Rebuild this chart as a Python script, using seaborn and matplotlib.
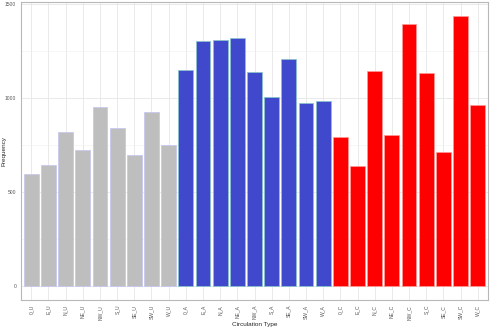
import matplotlib
matplotlib.use("Agg")
import matplotlib.pyplot as plt
from matplotlib.ticker import MultipleLocator
import seaborn as sns
import pandas as pd

# Circulation types (direction + class: U = unclassified, A = anticyclonic, C = cyclonic)
categories = [
    "0_U", "E_U", "N_U", "NE_U", "NW_U", "S_U", "SE_U", "SW_U", "W_U",
    "0_A", "E_A", "N_A", "NE_A", "NW_A", "S_A", "SE_A", "SW_A", "W_A",
    "0_C", "E_C", "N_C", "NE_C", "NW_C", "S_C", "SE_C", "SW_C", "W_C",
]
frequency = [
    596, 644, 820, 724, 953, 839, 698, 927, 750,
    1149, 1301, 1306, 1317, 1138, 1006, 1205, 974, 981,
    792, 640, 1144, 803, 1389, 1132, 712, 1436, 964,
]
circ_class = [c.split("_")[1] for c in categories]

fill_colors = {"U": "#BEBEBE", "A": "#4048CC", "C": "#FF0000"}
edge_colors = {"U": "#C4C4F2", "A": "#86C6C8", "C": "#FF9A9A"}

df = pd.DataFrame({"type": categories, "freq": frequency, "cls": circ_class})

sns.set_theme(style="whitegrid")
plt.rcParams["font.family"] = ["Liberation Sans", "DejaVu Sans"]

fig = plt.figure(figsize=(4.9, 3.27), dpi=100)
ax = fig.add_axes([21 / 490, 27 / 327, 467 / 490, 298 / 327])

sns.barplot(
    data=df, x="type", y="freq", hue="cls", order=categories,
    palette=fill_colors, dodge=False, width=0.86, legend=False, ax=ax,
    saturation=1, linewidth=0.5,
)
for patch, cls in zip(ax.patches, circ_class):
    patch.set_edgecolor(edge_colors[cls])
    patch.set_zorder(3)

n = len(categories)
ax.set_xlim(-0.6, n - 1 + 0.6)
ax.set_ylim(-72, 1508)
ax.yaxis.set_major_locator(MultipleLocator(500))
ax.yaxis.set_minor_locator(MultipleLocator(250))

ax.set_facecolor("white")
ax.grid(True, which="major", color="#E6E6E6", linewidth=0.6, zorder=0)
ax.grid(True, which="minor", axis="y", color="#F0F0F0", linewidth=0.4, zorder=0)
ax.set_axisbelow(True)
for side in ["left", "right", "top", "bottom"]:
    ax.spines[side].set_visible(True)
    ax.spines[side].set_color("#B8B8B8")
    ax.spines[side].set_linewidth(0.8)

ax.tick_params(axis="both", which="major", length=2, width=0.5, color="#999999",
               labelsize=3.6, labelcolor="#555555", pad=1.5)
ax.tick_params(axis="both", which="minor", length=0)
ax.set_xticks(range(n))
ax.set_xticklabels(categories, rotation=90)

ax.set_xlabel("Circulation Type", fontsize=4.6, labelpad=2)
ax.set_ylabel("Frequency", fontsize=4.6)
ax.yaxis.set_label_coords(-0.030, 0.5)

fig.savefig("out.png", dpi=100)
